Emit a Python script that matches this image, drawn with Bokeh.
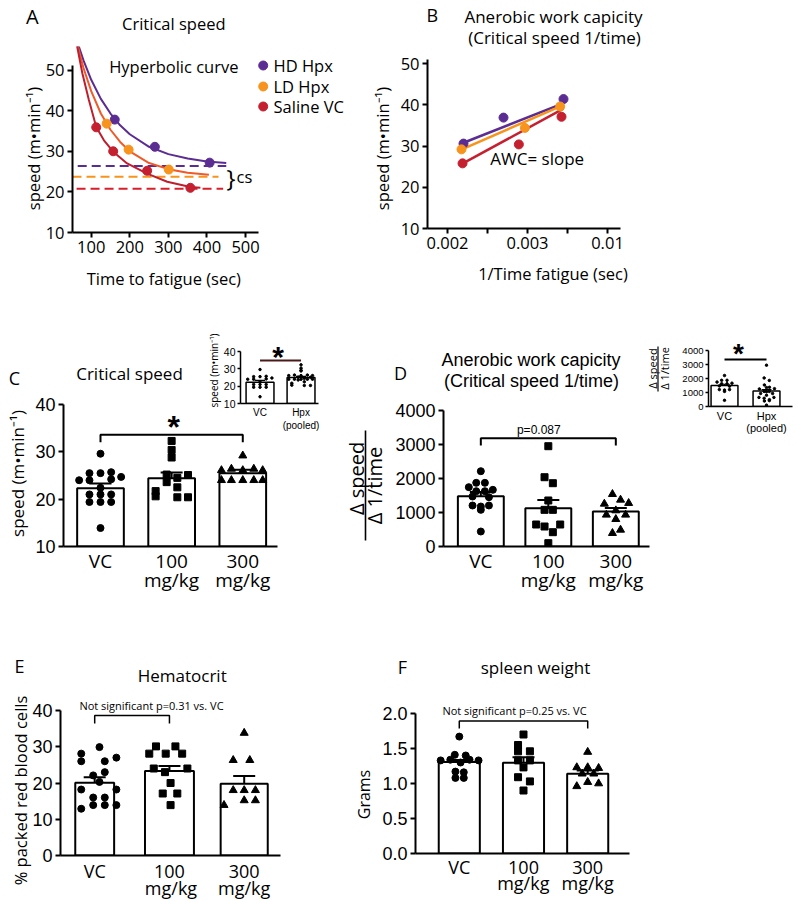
import math
from bokeh.plotting import figure
from bokeh.models import (Label, FixedTicker, Range1d, Spacer,
                          ColumnDataSource, Whisker, TeeHead, PrintfTickFormatter)
from bokeh.layouts import row, column
from bokeh.embed import file_html
from bokeh.resources import INLINE

SANS = "Open Sans"
ARIAL = "Liberation Sans"

# ---------------- Panel A : critical speed (hyperbolic fit) ----------------
groups_a = ["HD Hpx", "LD Hpx", "Saline VC"]
time_hd = [161, 265, 407]
speed_hd = [37.8, 31.1, 27.2]
time_ld = [140, 197, 301]
speed_ld = [36.8, 30.4, 25.5]
time_vc = [113, 157, 245, 357]
speed_vc = [35.9, 30.0, 25.2, 21.0]
curve_t_hd = [65, 80, 100, 125, 150, 175, 200, 250, 300, 350, 400, 450]
curve_s_hd = [56.6, 52.4, 47.6, 42.9, 39.3, 36.4, 34.2, 31.1, 29.3, 28.2, 27.5, 27.1]
curve_t_ld = [64, 80, 100, 125, 150, 175, 200, 250, 300, 350, 405]
curve_s_ld = [56.3, 50.5, 44.8, 39.3, 35.3, 32.3, 30.0, 27.1, 25.6, 24.7, 24.2]
curve_t_vc = [62, 77, 94, 113, 133, 157, 193, 245, 297, 357, 383]
curve_s_vc = [56.6, 49.2, 42.6, 36.0, 32.7, 29.9, 27.0, 24.5, 22.5, 21.2, 21.0]
cs_speed = [26.4, 23.7, 20.8]
cs_t_start = [65, 51.5, 62]
cs_t_end = [450, 430, 442]

# ---------------- Panel B : speed vs 1/time ----------------
inv_t_hd = [0.0022, 0.0027, 0.00345]
spd_b_hd = [30.6, 36.9, 41.4]
inv_t_ld = [0.002175, 0.002967, 0.003408]
spd_b_ld = [29.2, 34.4, 39.6]
inv_t_vc = [0.002188, 0.002892, 0.003425]
spd_b_vc = [25.8, 30.4, 37.1]
fit_x_hd = [0.0022, 0.003437]
fit_y_hd = [30.8, 40.3]
fit_x_ld = [0.002158, 0.003417]
fit_y_ld = [29.0, 39.7]
fit_x_vc = [0.002175, 0.00345]
fit_y_vc = [25.6, 39.1]
b_ticks = [0.002, 0.0025, 0.003, 0.0035, 0.004]
b_tick_labels = ["0.002", "", "0.003", "", "0.01"]

# ---------------- bar panels ----------------
cats = ["VC", "100", "300"]
cat_unit = "mg/kg"
cats_pooled = ["VC", "Hpx"]
pooled_note = "(pooled)"

# C: critical speed
c_vc = [29.6, 25.5, 25.5, 25.7, 24.0, 24.0, 24.2, 24.7, 22.4, 21.0, 21.0, 21.0, 19.4, 19.4, 19.4, 13.9]
c_vc_jit = [0, -0.155, 0, 0.15, -0.3, -0.155, 0.15, 0.29, 0, -0.155, 0, 0.15, -0.155, 0, 0.15, 0]
c_100 = [32.3, 30.4, 28.8, 25.2, 24.5, 25.1, 23.6, 22.5, 21.7, 20.6, 20.4, 20.4]
c_100_jit = [0, 0, 0, -0.07, 0.08, 0.23, -0.07, 0.08, -0.225, -0.225, 0.08, 0.23]
c_300 = [29.2, 26.1, 26.4, 26.1, 26.4, 26.1, 24.0, 24.0, 24.0, 24.0, 24.0]
c_300_jit = [0, -0.30, -0.16, 0, 0.155, 0.28, -0.30, -0.16, 0, 0.155, 0.28]
c_mean = [22.3, 24.4, 25.5]
c_sem = [1.0, 1.25, 0.7]
c_pooled_mean = [22.3, 25.0]
c_pooled_sem = [1.0, 0.7]
c_bracket = (0, 2, 33.6, 1.6)
c_pooled_line = (0, 1, 34.8)

# D: anaerobic work capacity
d_vc = [2215, 1873, 1873, 1745, 1667, 1627, 1627, 1471, 1451, 1206, 1176, 1206, 1078, 441]
d_vc_jit = [0, -0.068, 0.06, -0.178, 0.178, -0.068, 0.06, -0.123, 0.12, -0.123, 0, 0.12, 0, 0]
d_100 = [2950, 2038, 1862, 1353, 1078, 1078, 647, 588, 647, 421, 98]
d_100_jit = [0, -0.056, 0.067, 0, -0.056, 0.067, -0.18, -0.056, 0.176, 0.067, 0]
d_300 = [1539, 1255, 1373, 1275, 1059, 932, 932, 804, 392, 490]
d_300_jit = [-0.05, -0.17, 0.07, 0.19, 0, -0.14, 0.145, 0, -0.05, 0.07]
d_mean = [1480, 1127, 1029]
d_sem = [125, 240, 105]
d_pooled_mean = [1500, 1100]
d_pooled_sem = [90, 110]
d_bracket = (0, 2, 3185, 215)
d_pooled_line = (0, 1, 3357)

# E: hematocrit
e_vc = [29.9, 28.1, 26.0, 26.0, 27.0, 22.1, 23.0, 20.3, 18.2, 18.2, 16.0, 16.0, 13.9, 13.9, 13.9, 12.9]
e_vc_jit = [0.064, -0.18, -0.18, 0.135, 0.29, -0.02, 0.135, 0.064, -0.18, 0.29, -0.02, 0.135, -0.02, 0.135, 0.29, -0.18]
e_100 = [30.1, 30.1, 28.1, 28.1, 28.1, 24.0, 24.0, 23.0, 20.0, 17.1, 17.1, 13.9]
e_100_jit = [-0.18, 0.08, -0.27, -0.05, 0.17, -0.21, 0.24, -0.06, 0.015, -0.09, 0.105, 0.015]
e_300 = [33.8, 26.3, 26.3, 18.0, 18.0, 18.0, 13.9, 15.2, 15.2]
e_300_jit = [0, -0.147, 0.075, -0.147, 0, 0.15, -0.27, 0, 0.15]
e_mean = [20.1, 23.3, 19.8]
e_sem = [1.5, 1.4, 2.1]
e_bracket = (0, 1, 38.6, 2.2)

# F: spleen weight
f_vc = [1.67, 1.41, 1.40, 1.33, 1.34, 1.34, 1.33, 1.30, 1.17, 1.16, 1.08, 1.08]
f_vc_jit = [0, -0.07, 0.1, -0.29, -0.14, 0.16, 0.3, 0.02, -0.06, 0.07, -0.06, 0.07]
f_100 = [1.70, 1.55, 1.46, 1.46, 1.33, 1.33, 1.23, 1.09, 1.03, 0.90]
f_100_jit = [0, -0.085, -0.085, 0.1, -0.085, 0.1, 0, -0.085, 0.1, 0]
f_300 = [1.45, 1.23, 1.23, 1.22, 1.14, 1.14, 0.96, 1.02, 1.00]
f_300_jit = [0, -0.17, 0, 0.17, -0.086, 0.095, -0.17, 0, 0.17]
f_mean = [1.306, 1.297, 1.139]
f_sem = [0.03, 0.077, 0.048]
f_bracket = (0, 2, 1.894, 0.11)

COL_HD = "#5b2c92"
COL_LD = "#f7941d"
COL_VC = "#c4202f"
CURVE_LD = "#f05a28"
CURVE_VC = "#be1e2d"
DASH_VC = "#d71f2b"


def panel(x0, y0, w, h, L, R, T, B, xr, yr):
    p = figure(width=w, height=h, x_range=Range1d(*xr), y_range=Range1d(*yr),
               output_backend="svg", toolbar_location=None,
               min_border_left=L - x0, min_border_right=x0 + w - R,
               min_border_top=T - y0, min_border_bottom=y0 + h - B, align="start")
    p.outline_line_color = None
    p.xgrid.visible = False
    p.ygrid.visible = False
    p.background_fill_color = None
    p.border_fill_color = None
    return p


def style_axes(p, xticks, yticks, tfont, tsize, xlabels=None, xfont=None, xsize=None,
               x_tick_out=5, y_tick_out=5, lw=2, xstand=3, ystand=3,
               yfmt=None, ybounds=None):
    xa, ya = p.xaxis[0], p.yaxis[0]
    xa.ticker = FixedTicker(ticks=xticks)
    ya.ticker = FixedTicker(ticks=yticks)
    for a in (xa, ya):
        a.axis_line_width = lw
        a.axis_line_color = "black"
        a.major_tick_line_width = lw
        a.major_tick_line_color = "black"
        a.major_tick_in = 0
        a.minor_tick_line_color = None
        a.major_label_text_color = "black"
        a.major_label_text_font = tfont
        a.major_label_text_font_size = f"{tsize}px"
    xa.major_tick_out = x_tick_out
    ya.major_tick_out = y_tick_out
    xa.major_label_standoff = xstand
    ya.major_label_standoff = ystand
    if xfont:
        xa.major_label_text_font = xfont
    if xsize:
        xa.major_label_text_font_size = f"{xsize}px"
    if xlabels is not None:
        xa.major_label_overrides = {t: l for t, l in zip(xticks, xlabels)}
    if yfmt:
        ya.formatter = PrintfTickFormatter(format=yfmt)
    if ybounds:
        ya.bounds = ybounds


def bars(p, means, sems, width, base, cap, lw=2, elw=2):
    xs = list(range(len(means)))
    widths = width if isinstance(width, list) else [width] * len(means)
    src = ColumnDataSource(dict(x=xs, top=means, w=widths,
                                upper=[m + s for m, s in zip(means, sems)],
                                lower=[m - s for m, s in zip(means, sems)]))
    p.vbar(x="x", top="top", bottom=base, width="w", fill_color="white",
           line_color="black", line_width=lw, source=src)
    p.add_layout(Whisker(base="x", upper="upper", lower="lower", source=src,
                         line_width=elw, line_color="black",
                         upper_head=TeeHead(size=cap, line_width=elw, line_color="black"),
                         lower_head=TeeHead(size=cap, line_width=elw, line_color="black")))


def dots(p, gi, vals, jit, marker, size):
    p.scatter(x=[gi + j for j in jit], y=vals, marker=marker, size=size,
              fill_color="black", line_color="black")


def bracket(p, br, lw=2, color="black"):
    x0, x1, y, d = br
    p.line(x=[x0, x0, x1, x1], y=[y - d, y, y, y - d], line_color=color, line_width=lw)


# ======================= Panel A =======================
pa = panel(0, 0, 370, 300, 72, 258, 46, 232, (51.5, 533.6), (10, 55.8))
pa.segment(x0=cs_t_start, y0=cs_speed, x1=cs_t_end, y1=cs_speed,
           line_color=[COL_HD, COL_LD, DASH_VC], line_width=2, line_dash="9 5")
pa.line(curve_t_hd, curve_s_hd, line_color=COL_HD, line_width=2)
pa.line(curve_t_ld, curve_s_ld, line_color=CURVE_LD, line_width=2)
pa.line(curve_t_vc, curve_s_vc, line_color=CURVE_VC, line_width=2)
pa.scatter(time_hd, speed_hd, size=9, color=COL_HD)
pa.scatter(time_ld, speed_ld, size=9, color=COL_LD)
pa.scatter(time_vc, speed_vc, size=9, color=COL_VC)
style_axes(pa, [100, 200, 300, 400, 500], [10, 20, 30, 40, 50], SANS, 16.5, ybounds=(10, 51))

# ======================= Panel B =======================
pb = panel(370, 0, 300, 300, 427, 620, 59, 228, (0.00175, 0.0041625), (10, 51.0))
pb.line(fit_x_hd, fit_y_hd, line_color=COL_HD, line_width=2.5)
pb.line(fit_x_ld, fit_y_ld, line_color=COL_LD, line_width=2.5)
pb.line(fit_x_vc, fit_y_vc, line_color=COL_VC, line_width=2.5)
pb.scatter(inv_t_hd, spd_b_hd, size=9, color=COL_HD)
pb.scatter(inv_t_ld, spd_b_ld, size=9, color=COL_LD)
pb.scatter(inv_t_vc, spd_b_vc, size=9, color=COL_VC)
style_axes(pb, b_ticks, [10, 20, 30, 40, 50], SANS, 16.5, xlabels=b_tick_labels)

# ======================= Panel C =======================
pc = panel(0, 300, 300, 306, 63, 277, 404, 546, (-0.52, 2.488), (10, 40))
bars(pc, c_mean, c_sem, 0.656, 10, 22)
dots(pc, 0, c_vc, c_vc_jit, "circle", 7)
dots(pc, 1, c_100, c_100_jit, "square", 7)
dots(pc, 2, c_300, c_300_jit, "triangle", 8)
bracket(pc, c_bracket)
style_axes(pc, [0, 1, 2], [10, 20, 30, 40], ARIAL, 18, xlabels=cats, xfont=SANS, xsize=19,
           x_tick_out=0, xstand=1)

pci = panel(200, 335, 125, 104, 240, 318, 351, 403, (-0.476, 1.426), (10, 40))
bars(pci, c_pooled_mean, c_pooled_sem, 0.68, 10, 10, lw=1.5, elw=1.2)
dots(pci, 0, c_vc, c_vc_jit, "circle", 2.5)
dots(pci, 1, c_100 + c_300, c_100_jit + c_300_jit, "circle", 2.5)
x0_, x1_, yl_ = c_pooled_line
pci.line([x0_, x1_], [yl_, yl_], line_color="#4a1a1a", line_width=2)
style_axes(pci, [0, 1], [10, 20, 30, 40], ARIAL, 10.5, xlabels=cats_pooled, xsize=10,
           x_tick_out=0, y_tick_out=3, lw=1.5, xstand=3, ystand=2)

# ======================= Panel D =======================
pd_ = panel(325, 300, 330, 306, 443, 649, 410, 546, (-0.553, 2.499), (0, 4000))
bars(pd_, d_mean, d_sem, 0.68, 0, 22)
dots(pd_, 0, d_vc, d_vc_jit, "circle", 7)
dots(pd_, 1, d_100, d_100_jit, "square", 7)
dots(pd_, 2, d_300, d_300_jit, "triangle", 8)
bracket(pd_, d_bracket)
style_axes(pd_, [0, 1, 2], [0, 1000, 2000, 3000, 4000], ARIAL, 18, xlabels=cats, xfont=SANS,
           xsize=19, x_tick_out=0, xstand=1)

pdi = panel(645, 340, 151, 100, 708, 792, 350, 406, (-0.381, 1.619), (0, 4000))
bars(pdi, d_pooled_mean, d_pooled_sem, 0.64, 0, 10, lw=1.5, elw=1.2)
dots(pdi, 0, d_vc, d_vc_jit, "circle", 2.5)
dots(pdi, 1, d_100 + d_300, d_100_jit + d_300_jit, "circle", 2.5)
x0_, x1_, yl_ = d_pooled_line
pdi.line([x0_, x1_], [yl_, yl_], line_color="black", line_width=2)
style_axes(pdi, [0, 1], [0, 1000, 2000, 3000, 4000], ARIAL, 9.5, xlabels=cats_pooled,
           xsize=11, x_tick_out=0, y_tick_out=3, lw=1.5, xstand=3, ystand=2)

# ======================= Panel E =======================
pe = panel(0, 590, 350, 310, 60, 280, 710, 855, (-0.4575, 2.4856), (0, 40))
bars(pe, e_mean, e_sem, [0.52, 0.655, 0.63], 0, 22)
dots(pe, 0, e_vc, e_vc_jit, "circle", 7)
dots(pe, 1, e_100, e_100_jit, "square", 7)
dots(pe, 2, e_300, e_300_jit, "triangle", 8)
bracket(pe, e_bracket, lw=1.5)
style_axes(pe, [0, 1, 2], [0, 10, 20, 30, 40], ARIAL, 18, xlabels=cats, xfont=SANS, xsize=18,
           x_tick_out=0, xstand=3)

# ======================= Panel F =======================
pf = panel(350, 590, 446, 310, 415, 629, 713, 853, (-0.682, 2.651), (0, 2.0))
bars(pf, f_mean, f_sem, 0.64, 0, 22)
dots(pf, 0, f_vc, f_vc_jit, "circle", 7)
dots(pf, 1, f_100, f_100_jit, "square", 7)
dots(pf, 2, f_300, f_300_jit, "triangle", 8)
bracket(pf, f_bracket, lw=1.5)
style_axes(pf, [0, 1, 2], [0, 0.5, 1.0, 1.5, 2.0], ARIAL, 18, xlabels=cats, xfont=SANS,
           xsize=18, x_tick_out=0, xstand=1, yfmt="%.1f")

# ============ text layer (page coordinates, drawn over all panels) ============
ov = figure(width=796, height=900, x_range=Range1d(0, 796), y_range=Range1d(900, 0),
            output_backend="svg", toolbar_location=None, x_axis_location=None,
            y_axis_location=None, min_border=0, align="start")
ov.outline_line_color = None
ov.xgrid.visible = False
ov.ygrid.visible = False
ov.background_fill_color = None
ov.border_fill_color = None


def txt(px, py, text, size, font=SANS, angle=0, color="black", align="center",
        style="normal"):
    ov.add_layout(Label(x=px, y=py, text=text, text_font=font, text_font_size=f"{size}px",
                        angle=angle, text_color=color, text_align=align,
                        text_baseline="middle", text_font_style=style))


def vline(px, py0, py1, w=1.5):
    ov.line([px, px], [py0, py1], line_color="black", line_width=w)


SPEED_LBL = "speed (m\u2022min\u207b\u00b9)"
UP = math.pi / 2  # reads bottom-to-top

# A
txt(31.7, 15.7, "A", 20)
txt(173.3, 22.5, "Critical speed", 16.5)
txt(173.3, 66, "Hyperbolic curve", 16.5)
ov.scatter(x=[262.7, 262.7, 262.7], y=[65, 86, 106], size=9,
           color=[COL_HD, COL_LD, COL_VC])
for yy, name in zip([65, 86, 106], groups_a):
    txt(273, yy, name, 16.5, align="left")
txt(33, 148, SPEED_LBL, 16.5, angle=UP)
txt(163.3, 278, "Time to fatigue (sec)", 16.5)
txt(230.5, 177, "}", 24)
txt(244, 176, "cs", 16.5)
# B
txt(431.7, 14, "B", 18)
txt(553, 16, "Anerobic work capicity", 17)
txt(554, 37, "(Critical speed 1/time)", 17)
txt(536.7, 158.3, "AWC= slope", 17)
txt(382, 148, SPEED_LBL, 16.5, angle=UP)
txt(552.5, 273, "1/Time fatigue (sec)", 16.5)
# C
txt(14, 377, "C", 18)
txt(129, 373, "Critical speed", 17)
txt(17, 473, SPEED_LBL, 17, angle=UP)
txt(173.3, 426, "*", 32, font=ARIAL, style="bold")
txt(171, 579, cat_unit, 19)
txt(242.3, 579, cat_unit, 19)
txt(213.5, 370, SPEED_LBL, 10, angle=UP)
txt(277.5, 356, "*", 30, font=ARIAL, style="bold")
txt(300.5, 425, pooled_note, 10, font=ARIAL)
# D
txt(400, 372, "D", 18)
txt(530.5, 359, "Anerobic work capicity", 18, font=ARIAL)
txt(531, 380, "(Critical speed 1/time)", 18, font=ARIAL)
txt(538.3, 429.3, "p=0.087", 12, font=ARIAL)
txt(356, 478, "\u0394 speed", 20, angle=UP)
txt(374, 485, "\u0394 1/time", 20, angle=UP)
vline(365, 430, 540, 1.6)
txt(547.8, 579, cat_unit, 19)
txt(615.3, 579, cat_unit, 19)
txt(652, 368, "\u0394 speed", 11, angle=UP)
txt(664, 368, "\u0394 1/time", 11, angle=UP)
vline(657.5, 346, 391, 1.2)
txt(738, 353, "*", 28, font=ARIAL, style="bold")
txt(766, 427, pooled_note, 11, font=ARIAL)
# E
txt(19, 665, "E", 18)
txt(181.7, 675, "Hematocrit", 17)
txt(20, 790, "% packed red blood cells", 16.5, angle=UP)
txt(151, 705, "Not significant p=0.31 vs. VC", 11)
txt(170.5, 887, cat_unit, 18)
txt(243.7, 887, cat_unit, 18)
# F
txt(402, 666, "F", 18)
txt(535, 667, "spleen weight", 17)
txt(363.5, 794, "Grams", 16, angle=UP)
txt(514, 710, "Not significant p=0.25 vs. VC", 11)
txt(522.8, 882, cat_unit, 18)
txt(587.2, 882, cat_unit, 18)

# ======================= layout =======================
# every plot sits in its own wrapper, so that sibling plots do not get their
# frames aligned; insets and the text layer are pulled up with negative margins


def wrap(p, margin=(0, 0, 0, 0)):
    return column(p, margin=margin, align="start")


row1 = row(wrap(pa), wrap(pb))
row2 = row(wrap(pc), Spacer(width=25, height=10), wrap(pd_), margin=(0, 0, -16, 0))
row3 = row(wrap(pe), wrap(pf))
root = column(row1, row2, row3,
              wrap(pci, (335 - 900, 0, 0, 200)),
              wrap(pdi, (340 - 439, 0, 0, 645)),
              wrap(ov, (-440, 0, 0, 0)))

open("out.html", "w").write(file_html(root, INLINE, title="Critical speed"))
